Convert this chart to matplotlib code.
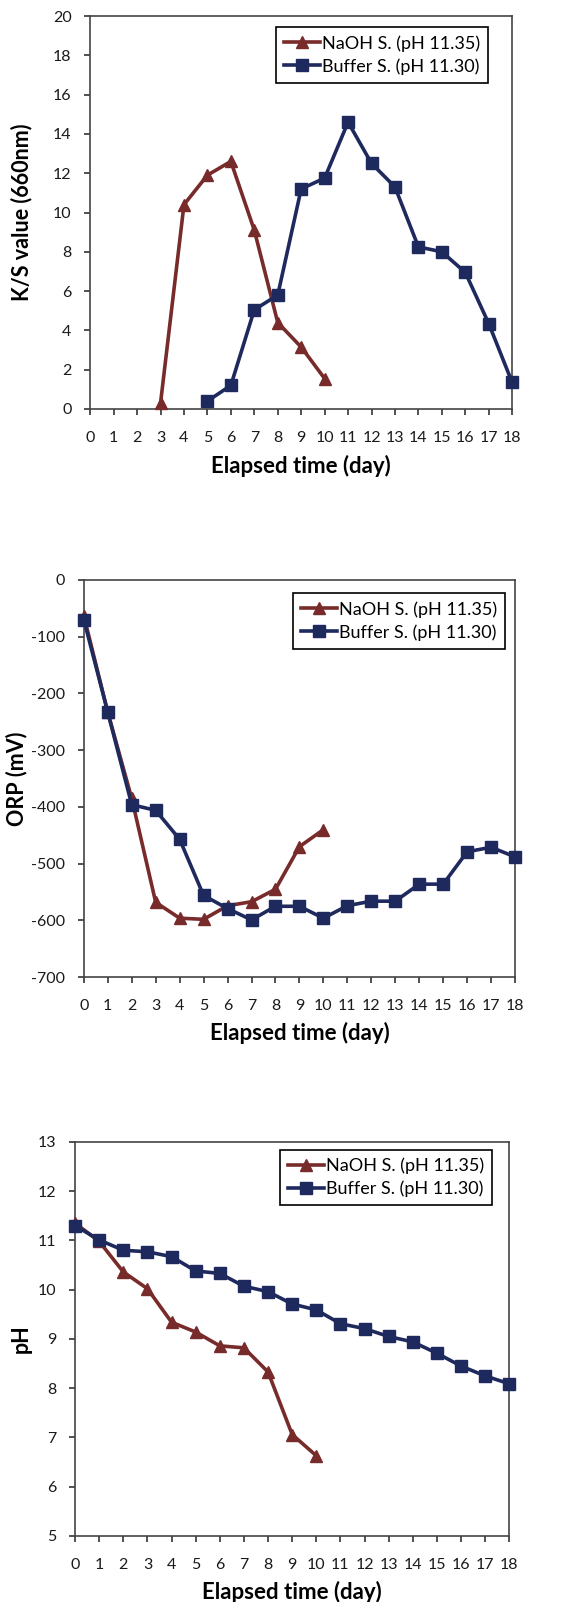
import matplotlib
matplotlib.use('Agg')
import matplotlib.pyplot as plt

plt.rcParams['font.family'] = ['Lato', 'DejaVu Sans']
plt.rcParams['axes.unicode_minus'] = False

# K/S value
ks_naoh_days = [3, 4, 5, 6, 7, 8, 9, 10]
ks_naoh = [0.3, 10.4, 11.9, 12.6, 9.1, 4.4, 3.15, 1.55]
ks_buf_days = [5, 6, 7, 8, 9, 10, 11, 12, 13, 14, 15, 16, 17, 18]
ks_buf = [0.4, 1.2, 5.05, 5.8, 11.2, 11.75, 14.6, 12.5, 11.3, 8.25, 8.0, 6.95, 4.35, 1.35]

# ORP (mV)
orp_naoh_days = list(range(0, 11))
orp_naoh = [-63, -233, -385, -568, -596, -598, -574, -567, -545, -470, -440]
orp_buf_days = list(range(0, 19))
orp_buf = [-70, -233, -396, -406, -457, -556, -579, -599, -575, -575, -596,
           -574, -566, -566, -536, -536, -479, -471, -488]

# pH
ph_naoh_days = list(range(0, 11))
ph_naoh = [11.35, 10.98, 10.36, 10.02, 9.34, 9.14, 8.86, 8.82, 8.33, 7.06, 6.63]
ph_buf_days = list(range(0, 19))
ph_buf = [11.3, 11.01, 10.8, 10.77, 10.67, 10.38, 10.33, 10.07, 9.96, 9.71, 9.59,
          9.31, 9.21, 9.05, 8.94, 8.71, 8.45, 8.25, 8.09]

naoh_label = 'NaOH S. (pH 11.35)'
buf_label = 'Buffer S. (pH 11.30)'
naoh_color = '#772B2A'
buf_color = '#1E2A5E'

fig = plt.figure(figsize=(5.82, 16.02), dpi=100)
rects = [
    [0.155, 0.7447, 0.725, 0.2453],
    [0.144, 0.390, 0.741, 0.248],
    [0.129, 0.0412, 0.746, 0.246],
]
panels = [
    (ks_naoh_days, ks_naoh, ks_buf_days, ks_buf, 'K/S value (660nm)', (0, 20), range(0, 21, 2)),
    (orp_naoh_days, orp_naoh, orp_buf_days, orp_buf, 'ORP (mV)', (-700, 0), range(-700, 1, 100)),
    (ph_naoh_days, ph_naoh, ph_buf_days, ph_buf, 'pH', (5, 13), range(5, 14)),
]
# per-panel placement tweaks (ylabel x, xlabel pad, legend anchor)
ylab_x = [-0.137, -0.130, -0.099]
xlab_pad = [7, 6, 6]
leg_anchor = [(0.943, 0.972), (0.977, 0.967), (0.961, 0.980)]

for i, (rect, (xn, yn, xb, yb, ylab, ylim, yticks)) in enumerate(zip(rects, panels)):
    ax = fig.add_axes(rect)
    ax.plot(xn, yn, color=naoh_color, marker='^', markersize=9, linewidth=2.6,
            label=naoh_label, clip_on=False, zorder=3)
    ax.plot(xb, yb, color=buf_color, marker='s', markersize=8, linewidth=2.6,
            label=buf_label, clip_on=False, zorder=4)
    ax.set_xlim(0, 18)
    ax.set_ylim(*ylim)
    ax.set_xticks(range(0, 19))
    ax.set_yticks(list(yticks))
    ax.tick_params(direction='out', length=4.5, width=1.2, colors='#333333',
                   labelsize=11.5, labelcolor='#1a1a1a')
    ax.tick_params(axis='x', pad=11.5)
    ax.tick_params(axis='y', pad=9)
    for s in ax.spines.values():
        s.set_color('#444444')
        s.set_linewidth(1.2)
    ax.set_xlabel('Elapsed time (day)', fontsize=16, fontweight='bold', labelpad=xlab_pad[i])
    ax.set_ylabel(ylab, fontsize=15.5, fontweight='bold')
    ax.yaxis.set_label_coords(ylab_x[i], 0.5)
    leg = ax.legend(loc='upper right', bbox_to_anchor=leg_anchor[i], borderaxespad=0,
                    fontsize=13, frameon=True, fancybox=False,
                    handlelength=2.0, handletextpad=0.1, borderpad=0.45,
                    labelspacing=0.35)
    leg.get_frame().set_edgecolor('black')
    leg.get_frame().set_linewidth(1.2)
    leg.get_frame().set_alpha(1)

fig.savefig('out.png', dpi=100)
